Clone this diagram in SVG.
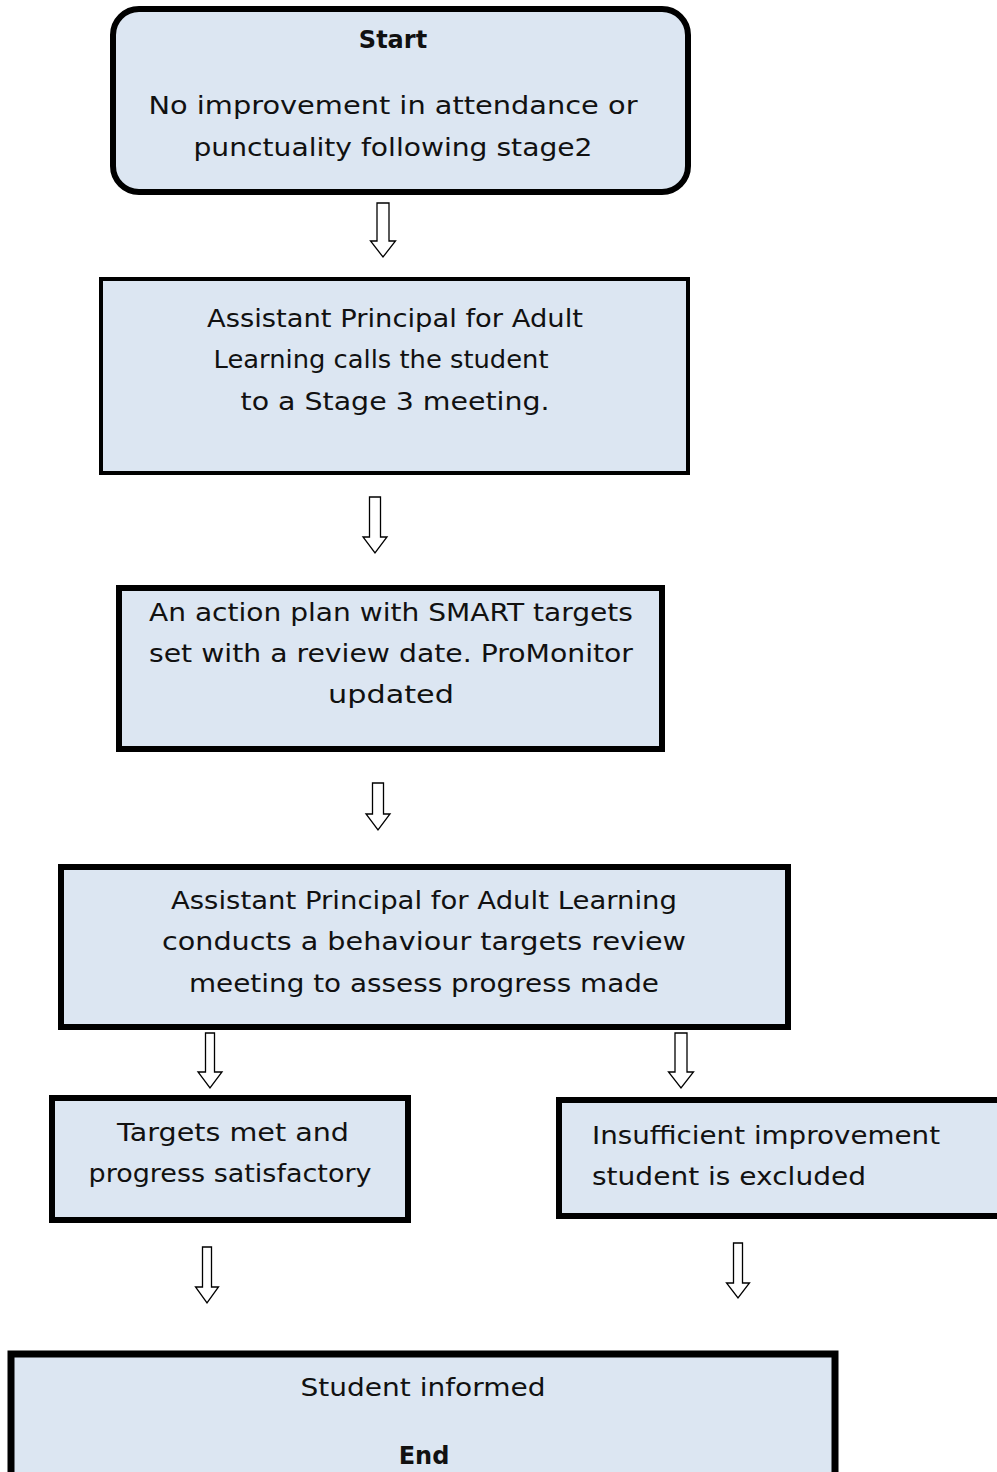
<svg xmlns="http://www.w3.org/2000/svg" width="997" height="1472" viewBox="0 0 997 1472">
  <style>
    .box { fill: #dce6f2; stroke: #000; }
    .arrow { fill: #fff; stroke: #000; stroke-width: 1.3; stroke-linejoin: miter; }
    text { font-family: "DejaVu Sans", "Liberation Sans", sans-serif; font-size: 25px; fill: #111; }
    .c { text-anchor: middle; }
    .b { font-weight: bold; font-size: 24px; }
  </style>
  <rect width="997" height="1472" fill="#fff"/>

  <!-- block arrows between steps -->
  <g id="connectors">
    <polygon class="arrow" points="377,203 389,203 389,241 395.5,241 383,257 370.5,241 377,241"/>
    <polygon class="arrow" points="369.5,497 380.5,497 380.5,537 387,537 375,553 363,537 369.5,537"/>
    <polygon class="arrow" points="372.5,783 383.5,783 383.5,814 390,814 378,830 366,814 372.5,814"/>
    <polygon class="arrow" points="205.5,1033 214.5,1033 214.5,1072 222,1072 210,1088 198,1072 205.5,1072"/>
    <polygon class="arrow" points="675,1033 687,1033 687,1072 693.5,1072 681,1088 668.5,1072 675,1072"/>
    <polygon class="arrow" points="202.5,1247 211.5,1247 211.5,1287 218.5,1287 207,1303 195.5,1287 202.5,1287"/>
    <polygon class="arrow" points="733.5,1243 742.5,1243 742.5,1283 749.5,1283 738,1298 726.5,1283 733.5,1283"/>
  </g>

  <g id="start">
    <rect class="box" x="113" y="9" width="575" height="183" rx="26" ry="26" stroke-width="6"/>
    <text class="c b" x="393" y="48">Start</text>
    <text class="c" x="393" y="114" textLength="489" lengthAdjust="spacingAndGlyphs">No improvement in attendance or</text>
    <text class="c" x="393" y="156" textLength="399" lengthAdjust="spacingAndGlyphs">punctuality following stage2</text>
  </g>

  <g id="stage3-meeting">
    <rect class="box" x="101" y="279" width="587" height="194" stroke-width="4"/>
    <text class="c" x="395" y="327" textLength="376" lengthAdjust="spacingAndGlyphs">Assistant Principal for Adult</text>
    <text class="c" x="381" y="368" textLength="335" lengthAdjust="spacingAndGlyphs">Learning calls the student</text>
    <text class="c" x="395" y="410" textLength="309" lengthAdjust="spacingAndGlyphs">to a Stage 3 meeting.</text>
  </g>

  <g id="action-plan">
    <rect class="box" x="119" y="588" width="543" height="161" stroke-width="6"/>
    <text class="c" x="391" y="621" textLength="484" lengthAdjust="spacingAndGlyphs">An action plan with SMART targets</text>
    <text class="c" x="391" y="662" textLength="484" lengthAdjust="spacingAndGlyphs">set with a review date. ProMonitor</text>
    <text class="c" x="391" y="703" textLength="126" lengthAdjust="spacingAndGlyphs">updated</text>
  </g>

  <g id="review-meeting">
    <rect class="box" x="61" y="867" width="727" height="160" stroke-width="6"/>
    <text class="c" x="424" y="909" textLength="506" lengthAdjust="spacingAndGlyphs">Assistant Principal for Adult Learning</text>
    <text class="c" x="424" y="950" textLength="524" lengthAdjust="spacingAndGlyphs">conducts a behaviour targets review</text>
    <text class="c" x="424" y="992" textLength="470" lengthAdjust="spacingAndGlyphs">meeting to assess progress made</text>
  </g>

  <g id="targets-met">
    <rect class="box" x="52" y="1098" width="356" height="122" stroke-width="6"/>
    <text class="c" x="233" y="1141" textLength="232" lengthAdjust="spacingAndGlyphs">Targets met and</text>
    <text class="c" x="230" y="1182" textLength="283" lengthAdjust="spacingAndGlyphs">progress satisfactory</text>
  </g>

  <g id="excluded">
    <rect class="box" x="559" y="1100" width="445" height="116" stroke-width="6"/>
    <text x="592" y="1144" textLength="348" lengthAdjust="spacingAndGlyphs">Insufficient improvement</text>
    <text x="592" y="1185" textLength="274" lengthAdjust="spacingAndGlyphs">student is excluded</text>
  </g>

  <g id="end">
    <rect class="box" x="11" y="1354" width="824" height="125" stroke-width="7"/>
    <text class="c" x="423" y="1396" textLength="245" lengthAdjust="spacingAndGlyphs">Student informed</text>
    <text class="c b" x="424" y="1464">End</text>
  </g>
</svg>
